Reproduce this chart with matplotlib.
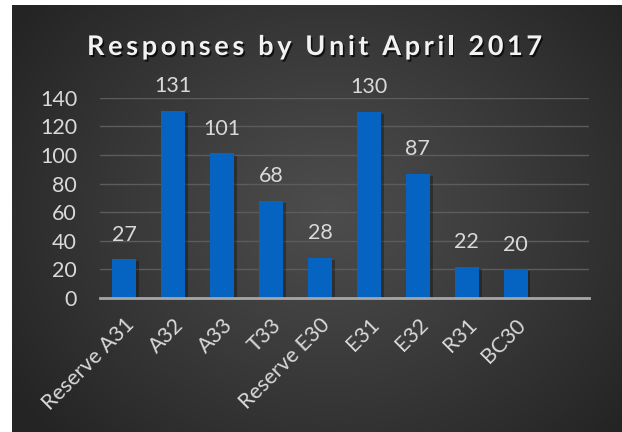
import numpy as np
import matplotlib
matplotlib.use("Agg")
import matplotlib.pyplot as plt
import matplotlib.patheffects as pe
from matplotlib.font_manager import FontProperties
from matplotlib.transforms import ScaledTranslation

categories = ["Reserve A31", "A32", "A33", "T33", "Reserve E30", "E31", "E32", "R31", "BC30", ""]
values = [27, 131, 101, 68, 28, 130, 87, 22, 20, None]
yticks = [0, 20, 40, 60, 80, 100, 120, 140]
title = "Responses by Unit April 2017"

W, H = 622, 432
fig = plt.figure(figsize=(W / 100, H / 100), dpi=100)
fig.patch.set_facecolor("white")

# background panel with radial gradient
bg = fig.add_axes([12 / W, 0, 1 - 12 / W, 1 - 5 / H])
bg.set_axis_off()
ny, nx = 300, 400
yy, xx = np.mgrid[0:ny, 0:nx]
cx, cy = nx * 0.52, ny * 0.48
r = np.sqrt(((xx - cx) / (nx * 0.62)) ** 2 + ((yy - cy) / (ny * 0.75)) ** 2)
r = np.clip(r, 0, 1)
c_in, c_out = 0.30, 0.145
img = c_in + (c_out - c_in) * r ** 1.1
bg.imshow(np.dstack([img, img, img]), aspect="auto", extent=[0, 1, 0, 1], interpolation="bilinear")
bg.set_xlim(0, 1)
bg.set_ylim(0, 1)

ax = fig.add_axes([100 / W, 1 - 298 / H, 489 / W, (298 - 97.7) / H])
ax.set_facecolor("none")
x = np.arange(len(categories))
vals = [v if v is not None else 0 for v in values]
ax.bar(x[:9], vals[:9], width=0.49, color="#0563C1", zorder=3,
       path_effects=[pe.withSimplePatchShadow(offset=(2, -1.5), shadow_rgbFace="black", alpha=0.3)])
ax.set_xlim(-0.5, len(categories) - 0.5)
ax.set_ylim(0, 140)
ax.set_yticks(yticks)
ax.grid(axis="y", color="#5c5c5c", linewidth=1.0, zorder=0)
ax.set_axisbelow(True)
for s in ["top", "right", "left"]:
    ax.spines[s].set_visible(False)
ax.spines["bottom"].set_color("#a6a6a6")
ax.spines["bottom"].set_linewidth(2.0)
ax.spines["bottom"].set_zorder(4)

font = "Lato"
lblcol = "#d9d9d9"
ax.tick_params(axis="both", length=0, labelcolor=lblcol)
ax.tick_params(axis="y", pad=16.5, labelsize=15.5)
for lab in ax.get_yticklabels():
    lab.set_fontfamily(font)
ax.set_xticks(x)
ax.set_xticklabels(categories, rotation=45, ha="right", va="center", rotation_mode="anchor",
                   fontfamily=font, fontsize=15.5)
ax.tick_params(axis="x", pad=17)
shift = ScaledTranslation(7 / 100, 0, fig.dpi_scale_trans)
for lab in ax.get_xticklabels():
    lab.set_transform(lab.get_transform() + shift)

for xi, v in zip(x, values):
    if v is None:
        continue
    ax.annotate(str(v), (xi, v), xytext=(0, 10.5), textcoords="offset points",
                ha="center", va="bottom", color=lblcol, fontsize=15.5, fontfamily=font)

# letter-spaced title
fp = FontProperties(family=font, weight="bold", size=19.5)
renderer = fig.canvas.get_renderer()
def tw(s):
    w, h, d = renderer.get_text_width_height_descent(s, fp, ismath=False)
    return w
space_w = tw("x x") - tw("xx")
widths = [space_w if ch == " " else tw(ch) for ch in title]
target_left, target_right = 87, 542
spacing = (target_right - target_left - sum(widths)) / (len(title) - 1)
xpos = target_left
shadow = [pe.withSimplePatchShadow(offset=(1.2, -1.5), shadow_rgbFace="black", alpha=0.7)]
for ch, w in zip(title, widths):
    if ch != " ":
        fig.text(xpos / W, 1 - 55 / H, ch, ha="left", va="baseline", color="#f2f2f2",
                 fontproperties=fp, path_effects=shadow)
    xpos += w + spacing

fig.savefig("out.png", dpi=100, facecolor=fig.get_facecolor())
